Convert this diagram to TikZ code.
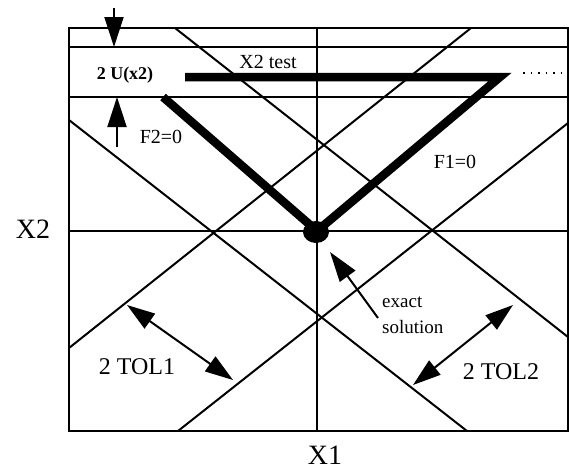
\documentclass[tikz,border=0pt]{standalone}
\usepackage{fontspec}
\setmainfont{Liberation Serif}
\usepackage{tikz}
\usetikzlibrary{arrows.meta}
\tikzset{
  frame line/.style={line width=1.8pt},
  band line/.style={line width=2pt},
  test path/.style={line width=8.5pt,line join=miter,miter limit=20},
  plot label/.style={inner sep=0pt,font=\fontsize{20}{24}\selectfont},
  tol label/.style={plot label,font=\fontsize{24}{28}\selectfont},
  axis label/.style={inner sep=0pt,font=\fontsize{28}{32}\selectfont},
  dim arrow/.style={line width=2pt,-{Triangle[length=30pt,width=19pt]}},
  both arrow/.style={line width=2pt,{Triangle[length=28pt,width=18pt]}-{Triangle[length=28pt,width=18pt]}}
}
\begin{document}
\begin{tikzpicture}[x=1pt,y=-1pt]
\useasboundingbox (0,0) rectangle (569,475);
% frame and axes
\draw[frame line] (69,28) rectangle (568,431);
\draw[frame line] (69,47) -- (568,47);
\draw[frame line] (69,97) -- (568,97);
\draw[frame line] (69,231) -- (568,231);
\draw[frame line] (317,28) -- (317,431);
% tolerance bands
\draw[band line] (69,120) -- (467,431);
\draw[band line] (175,28) -- (568,337);
\draw[band line] (69,348) -- (471,28);
\draw[band line] (178,431) -- (568,123);
% test path
\draw[test path] (163,97) -- (317,231) -- (500,77) -- (185,77);
\draw[line width=1.4pt,dash pattern=on 1.5pt off 6pt] (523,73) -- (568,73);
\fill (316,232) ellipse (13 and 11);
% labels
\node[axis label] (x2lab) at (33,229) {X2};
\node[axis label] (x1lab) at (325,455) {X1};
\node[plot label,font=\fontsize{18}{22}\selectfont\bfseries] (ulab) at (125,75) {2 U(x2)};
\node[plot label] (testlab) at (268,62) {X2 test};
\node[plot label] (f2lab) at (161,137) {F2=0};
\node[plot label] (f1lab) at (455,162) {F1=0};
\node[plot label,font=\fontsize{19}{26}\selectfont,align=left,anchor=west] (exactlab) at (382,315) {exact\\solution};
\node[tol label] (tol1lab) at (137,367) {2 TOL1};
\node[tol label] (tol2lab) at (501,372) {2 TOL2};
% arrows
\coordinate (uTop) at (114,8);
\coordinate (uTopTip) at (114,47);
\coordinate (uBot) at (117,147);
\coordinate (uBotTip) at (117,97);
\coordinate (exTail) at (378,318);
\coordinate (exTip) at (330,252);
\coordinate (tol1a) at (127,305);
\coordinate (tol1b) at (233,380);
\coordinate (tol2a) at (413,385);
\coordinate (tol2b) at (513,305);
\draw[dim arrow] (uTop) -- (uTopTip);
\draw[dim arrow] (uBot) -- (uBotTip);
\draw[dim arrow] (exTail) -- (exTip);
\draw[both arrow] (tol1a) -- (tol1b);
\draw[both arrow] (tol2a) -- (tol2b);
\end{tikzpicture}
\end{document}
